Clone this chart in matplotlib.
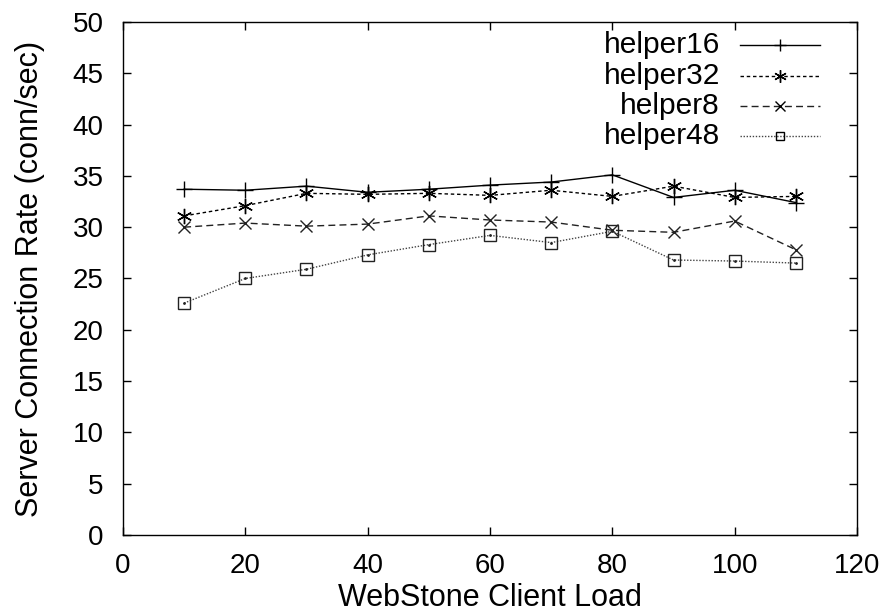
import matplotlib
matplotlib.use('Agg')
import matplotlib.pyplot as plt

# WebStone client load (x) and server connection rate (conn/sec) per helper config
client_load = [10, 20, 30, 40, 50, 60, 70, 80, 90, 100, 110]
helper16 = [33.7, 33.6, 34.0, 33.4, 33.7, 34.1, 34.4, 35.1, 32.9, 33.6, 32.4]
helper32 = [31.1, 32.1, 33.3, 33.2, 33.3, 33.1, 33.6, 33.0, 34.0, 32.9, 33.0]
helper8 = [30.0, 30.4, 30.1, 30.3, 31.1, 30.7, 30.5, 29.7, 29.5, 30.6, 27.8]
helper48 = [22.6, 25.0, 25.9, 27.3, 28.3, 29.2, 28.5, 29.6, 26.8, 26.7, 26.5]

series_names = ['helper16', 'helper32', 'helper8', 'helper48']
x_ticks = [0, 20, 40, 60, 80, 100, 120]
y_ticks = [0, 5, 10, 15, 20, 25, 30, 35, 40, 45, 50]

plt.rcParams['font.family'] = ['Liberation Sans', 'DejaVu Sans']
plt.rcParams['font.size'] = 20

asterisk = (6, 2, 0)
styles = [
    dict(color='black', linestyle='-', marker='+', markersize=11, lw=1.0),
    dict(color='black', linestyle=(0, (2.5, 2)), marker=asterisk, markersize=11, lw=1.0),
    dict(color='#222222', linestyle=(0, (5, 3)), marker='x', markersize=9, lw=1.0),
    dict(color='#444444', linestyle=(0, (1, 1.2)), marker='s', markersize=8,
         markerfacecolor='none', markeredgecolor='#222222', lw=1.0),
]


def main():
    fig = plt.figure(figsize=(8.86, 6.14), dpi=100)
    ax = fig.add_axes([0.1388, 0.1287, 0.8285, 0.8355])

    all_series = [helper16, helper32, helper8, helper48]
    for values, st in zip(all_series, styles):
        ax.plot(client_load, values, mew=1.0, **st)
        # small centre dot in the square markers, gnuplot style
        if st['marker'] == 's':
            ax.plot(client_load, values, linestyle='none', marker='.', markersize=2, color='#222222')

    # gnuplot-like legend: right aligned text, sample line on the right
    leg_y = [0.955, 0.895, 0.836, 0.778]
    for name, st, yy in zip(series_names, styles, leg_y):
        ax.text(0.813, yy, name, transform=ax.transAxes, ha='right', va='center', fontsize=21.5)
        ax.plot([0.841, 0.950], [yy, yy], transform=ax.transAxes,
                color=st['color'], linestyle=st['linestyle'], lw=st['lw'])
        ax.plot([0.895], [yy], transform=ax.transAxes, linestyle='none',
                marker=st['marker'], markersize=st['markersize'] - 2,
                color='black', mew=1.0,
                markerfacecolor='none' if st['marker'] == 's' else 'black')

    ax.set_xlim(0, 120)
    ax.set_ylim(0, 50)
    ax.set_xticks(x_ticks)
    ax.set_yticks(y_ticks)
    ax.tick_params(direction='in', length=6, width=1, top=True, right=True)
    ax.tick_params(axis='x', pad=13)
    ax.tick_params(axis='y', pad=14)
    for sp in ax.spines.values():
        sp.set_linewidth(1.0)

    ax.set_xlabel('WebStone Client Load', fontsize=22, labelpad=3)
    ax.set_ylabel('Server Connection Rate (conn/sec)', fontsize=22, labelpad=20)

    fig.savefig('out.png', dpi=100)


if __name__ == '__main__':
    main()
